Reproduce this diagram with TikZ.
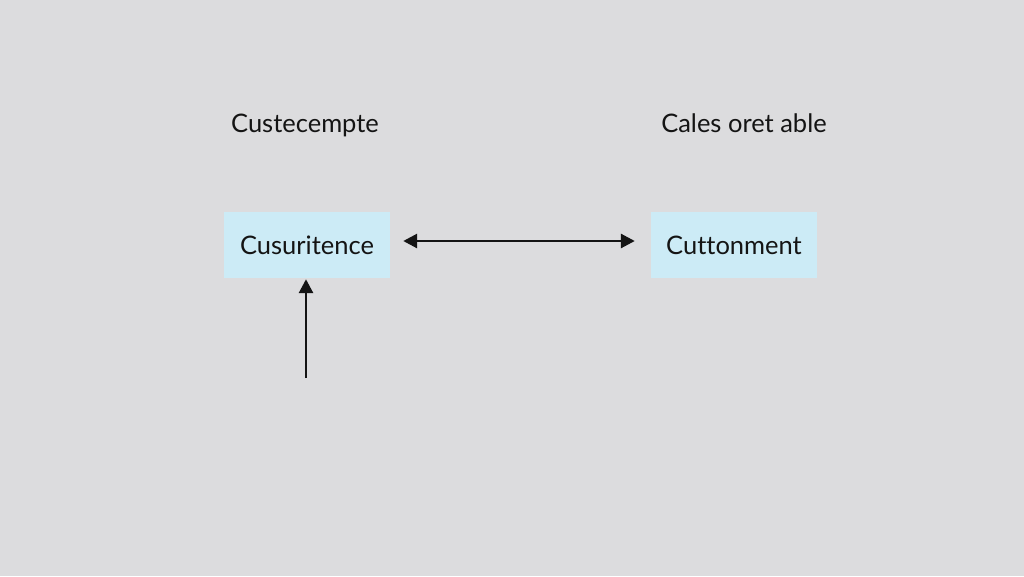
\documentclass[tikz,border=0pt]{standalone}
\usepackage{fontspec}
\setmainfont{Lato}[Ligatures=NoCommon]
\usetikzlibrary{arrows.meta}
\definecolor{bggray}{HTML}{DCDCDE}
\definecolor{boxblue}{HTML}{CCEBF6}
\definecolor{inkdark}{HTML}{141414}

\begin{document}
\begin{tikzpicture}[x=1pt, y=-1pt,
    entity/.style={fill=boxblue, draw=none, minimum width=166pt, minimum height=66pt,
                   inner sep=0pt, text=inkdark, font=\fontsize{25.5}{30}\selectfont},
    caption/.style={inner sep=0pt, anchor=base, text=inkdark, font=\fontsize{25.5}{30}\selectfont},
    link/.style={line width=2.8pt, draw=inkdark, -{Triangle[length=14pt, width=14pt]}}]

  %% ==== background ====
  \fill[bggray] (0,0) rectangle (1024,576);

  %% ==== captions ====
  \node[caption] (capleft)  at (305,132) {Custecempte};
  \node[caption] (capright) at (744,132) {Cales oret able};

  %% ==== boxes ====
  \node[entity] (cusur) at (307,245) {Cusuritence};
  \node[entity] (cutton) at (734,245) {Cuttonment};

  %% ==== arrows ====
  \coordinate (foot) at (306,378);
  \draw[link, {Triangle[length=14pt, width=14pt]}-{Triangle[length=14pt, width=14pt]}]
    ([xshift=13pt, yshift=4pt]cusur.east) -- ([xshift=-16pt, yshift=4pt]cutton.west);
  \draw[link] (foot) -- ([xshift=-1pt, yshift=-1pt]cusur.south);

  \pgfresetboundingbox
  \path[use as bounding box] (0,0) rectangle (1024,576);
\end{tikzpicture}
\end{document}
